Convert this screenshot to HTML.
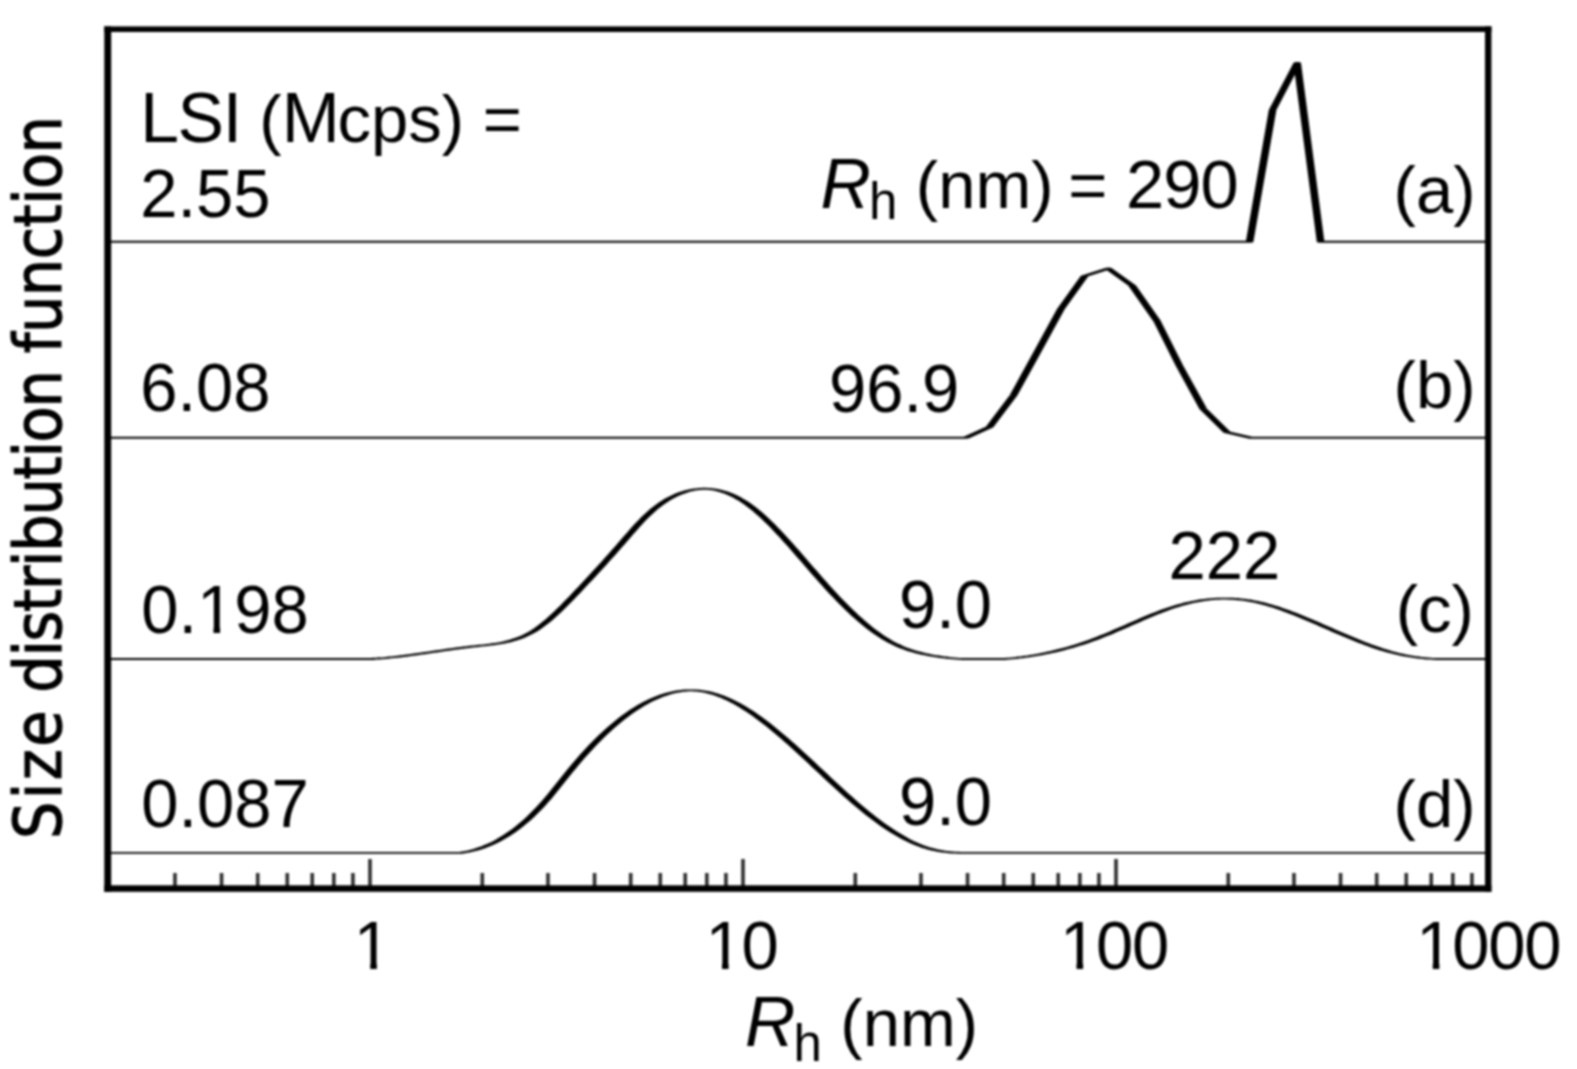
<!DOCTYPE html>
<html lang="en">
<head>
<meta charset="utf-8">
<title>Size distribution function vs Rh (nm)</title>
<style>
  html, body { margin: 0; padding: 0; background: #ffffff; }
  body { width: 1577px; height: 1069px; overflow: hidden; }
  svg { display: block; }
  svg text { font-family: "Liberation Sans", Arial, Helvetica, sans-serif; font-size: 67px; fill: #000; }
  svg text.yl { font-family: "DejaVu Sans Condensed", "DejaVu Sans", "Liberation Sans", sans-serif; font-stretch: condensed; font-size: 65.5px; letter-spacing: -1.15px; stroke: #000; stroke-width: 1.1px; }
</style>
</head>
<body>
<svg width="1577" height="1069" viewBox="0 0 1577 1069">
<defs><filter id="soft" x="0" y="0" width="1577" height="1069" filterUnits="userSpaceOnUse" color-interpolation-filters="sRGB"><feGaussianBlur stdDeviation="0.90"/></filter></defs>
<rect x="0" y="0" width="1577" height="1069" fill="#ffffff"/>
<g filter="url(#soft)">
<rect x="0" y="0" width="1577" height="1069" fill="#ffffff"/>
<g id="curves">
<path transform="scale(4.0000 1)" d="M27.550 241.80L312.400 241.80L318.150 110.00L324.300 63.00L330.150 241.80L371.500 241.80" fill="none" stroke="#000" stroke-width="1.90" stroke-linejoin="round" stroke-linecap="butt"/>
<path transform="scale(4.0000 1)" d="M27.550 437.80L241.475 437.80L247.400 427.00L253.350 395.50L259.275 352.50L265.225 309.00L271.150 276.00L277.075 268.50L283.025 285.50L289.250 321.00L294.900 366.00L300.825 409.00L306.750 432.30L312.700 437.80L371.500 437.80" fill="none" stroke="#000" stroke-width="1.90" stroke-linejoin="round" stroke-linecap="butt"/>
<path transform="scale(4.0000 1)" d="M27.550 659.00L93.000 659.00L93.750 658.69L94.500 658.50L95.250 658.28L96.000 658.04L96.750 657.77L97.500 657.48L98.250 657.18L99.000 656.86L99.750 656.52L100.500 656.16L101.250 655.79L102.000 655.41L102.750 655.02L103.500 654.61L104.250 654.20L105.000 653.78L105.750 653.35L106.500 652.92L107.250 652.48L108.000 652.04L108.750 651.60L109.500 651.16L110.250 650.73L111.000 650.29L111.750 649.86L112.500 649.43L113.250 649.01L114.000 648.60L114.750 648.20L115.500 647.81L116.250 647.43L117.000 647.06L117.750 646.71L118.500 646.37L119.250 646.05L120.000 645.73L120.750 645.42L121.500 645.09L122.250 644.74L123.000 644.37L123.750 643.95L124.500 643.49L125.250 642.97L126.000 642.39L126.750 641.72L127.500 640.97L128.250 640.13L129.000 639.18L129.750 638.12L130.500 636.94L131.250 635.62L132.000 634.16L132.750 632.56L133.500 630.79L134.250 628.85L135.000 626.76L135.750 624.52L136.500 622.15L137.250 619.65L138.000 617.03L138.750 614.31L139.500 611.50L140.250 608.60L141.000 605.63L141.750 602.60L142.500 599.51L143.250 596.38L144.000 593.22L144.750 590.04L145.500 586.85L146.250 583.65L147.000 580.44L147.750 577.22L148.500 573.98L149.250 570.73L150.000 567.46L150.750 564.18L151.500 560.87L152.250 557.54L153.000 554.19L153.750 550.81L154.500 547.40L155.250 543.96L156.000 540.50L156.750 537.03L157.500 533.59L158.250 530.18L159.000 526.83L159.750 523.56L160.500 520.39L161.250 517.33L162.000 514.43L162.750 511.68L163.500 509.10L164.250 506.70L165.000 504.47L165.750 502.39L166.500 500.48L167.250 498.72L168.000 497.10L168.750 495.64L169.500 494.31L170.250 493.12L171.000 492.08L171.750 491.18L172.500 490.42L173.250 489.80L174.000 489.33L174.750 489.00L175.500 488.82L176.250 488.78L177.000 488.88L177.750 489.13L178.500 489.53L179.250 490.08L180.000 490.77L180.750 491.61L181.500 492.59L182.250 493.73L183.000 495.01L183.750 496.45L184.500 498.03L185.250 499.76L186.000 501.65L186.750 503.68L187.500 505.85L188.250 508.15L189.000 510.58L189.750 513.13L190.500 515.79L191.250 518.55L192.000 521.40L192.750 524.35L193.500 527.38L194.250 530.49L195.000 533.66L195.750 536.89L196.500 540.18L197.250 543.52L198.000 546.89L198.750 550.30L199.500 553.74L200.250 557.19L201.000 560.66L201.750 564.13L202.500 567.59L203.250 571.05L204.000 574.49L204.750 577.91L205.500 581.29L206.250 584.64L207.000 587.95L207.750 591.22L208.500 594.44L209.250 597.61L210.000 600.73L210.750 603.79L211.500 606.79L212.250 609.73L213.000 612.60L213.750 615.39L214.500 618.11L215.250 620.76L216.000 623.32L216.750 625.79L217.500 628.18L218.250 630.47L219.000 632.67L219.750 634.77L220.500 636.76L221.250 638.65L222.000 640.43L222.750 642.09L223.500 643.64L224.250 645.08L225.000 646.41L225.750 647.65L226.500 648.79L227.250 649.84L228.000 650.81L228.750 651.70L229.500 652.52L230.250 653.27L231.000 653.96L231.750 654.59L232.500 655.16L233.250 655.69L234.000 656.18L234.750 656.63L235.500 657.05L236.250 657.43L237.000 657.79L237.750 658.12L238.500 658.41L239.250 658.68L240.000 658.91L240.750 659.00L251.250 659.00L252.000 658.64L252.750 658.37L253.500 658.08L254.250 657.76L255.000 657.41L255.750 657.04L256.500 656.63L257.250 656.20L258.000 655.73L258.750 655.24L259.500 654.72L260.250 654.17L261.000 653.59L261.750 652.98L262.500 652.34L263.250 651.67L264.000 650.97L264.750 650.24L265.500 649.48L266.250 648.70L267.000 647.88L267.750 647.02L268.500 646.14L269.250 645.23L270.000 644.29L270.750 643.31L271.500 642.31L272.250 641.27L273.000 640.20L273.750 639.10L274.500 637.97L275.250 636.80L276.000 635.61L276.750 634.39L277.500 633.14L278.250 631.88L279.000 630.60L279.750 629.30L280.500 628.00L281.250 626.68L282.000 625.36L282.750 624.04L283.500 622.73L284.250 621.42L285.000 620.11L285.750 618.82L286.500 617.55L287.250 616.29L288.000 615.05L288.750 613.84L289.500 612.66L290.250 611.50L291.000 610.38L291.750 609.30L292.500 608.26L293.250 607.27L294.000 606.31L294.750 605.42L295.500 604.57L296.250 603.78L297.000 603.04L297.750 602.36L298.500 601.73L299.250 601.16L300.000 600.64L300.750 600.18L301.500 599.78L302.250 599.44L303.000 599.15L303.750 598.93L304.500 598.76L305.250 598.65L306.000 598.60L306.750 598.61L307.500 598.68L308.250 598.81L309.000 599.00L309.750 599.26L310.500 599.57L311.250 599.95L312.000 600.40L312.750 600.90L313.500 601.47L314.250 602.09L315.000 602.78L315.750 603.52L316.500 604.31L317.250 605.15L318.000 606.04L318.750 606.97L319.500 607.94L320.250 608.96L321.000 610.01L321.750 611.10L322.500 612.22L323.250 613.37L324.000 614.54L324.750 615.75L325.500 616.97L326.250 618.21L327.000 619.48L327.750 620.75L328.500 622.04L329.250 623.34L330.000 624.65L330.750 625.96L331.500 627.27L332.250 628.59L333.000 629.90L333.750 631.21L334.500 632.51L335.250 633.80L336.000 635.08L336.750 636.35L337.500 637.60L338.250 638.84L339.000 640.06L339.750 641.26L340.500 642.43L341.250 643.57L342.000 644.69L342.750 645.78L343.500 646.84L344.250 647.86L345.000 648.85L345.750 649.79L346.500 650.70L347.250 651.56L348.000 652.38L348.750 653.15L349.500 653.87L350.250 654.55L351.000 655.17L351.750 655.75L352.500 656.28L353.250 656.76L354.000 657.20L354.750 657.59L355.500 657.93L356.250 658.23L357.000 658.48L357.750 658.69L358.500 658.85L359.250 658.97L360.000 659.00L371.500 659.00" fill="none" stroke="#000" stroke-width="1.90" stroke-linejoin="round" stroke-linecap="butt"/>
<path transform="scale(4.0000 1)" d="M27.550 852.90L115.250 852.90L116.000 852.24L116.750 851.73L117.500 851.12L118.250 850.41L119.000 849.60L119.750 848.69L120.500 847.68L121.250 846.56L122.000 845.35L122.750 844.03L123.500 842.61L124.250 841.09L125.000 839.46L125.750 837.72L126.500 835.88L127.250 833.94L128.000 831.88L128.750 829.71L129.500 827.43L130.250 825.04L131.000 822.54L131.750 819.91L132.500 817.17L133.250 814.31L134.000 811.33L134.750 808.23L135.500 805.01L136.250 801.66L137.000 798.18L137.750 794.59L138.500 790.91L139.250 787.17L140.000 783.39L140.750 779.60L141.500 775.83L142.250 772.11L143.000 768.46L143.750 764.87L144.500 761.35L145.250 757.91L146.000 754.53L146.750 751.23L147.500 748.00L148.250 744.84L149.000 741.76L149.750 738.76L150.500 735.84L151.250 733.00L152.000 730.23L152.750 727.55L153.500 724.95L154.250 722.44L155.000 720.01L155.750 717.66L156.500 715.41L157.250 713.24L158.000 711.16L158.750 709.17L159.500 707.28L160.250 705.48L161.000 703.77L161.750 702.16L162.500 700.64L163.250 699.22L164.000 697.91L164.750 696.69L165.500 695.58L166.250 694.57L167.000 693.66L167.750 692.86L168.500 692.17L169.250 691.59L170.000 691.11L170.750 690.75L171.500 690.51L172.250 690.37L173.000 690.36L173.750 690.45L174.500 690.67L175.250 691.01L176.000 691.47L176.750 692.04L177.500 692.74L178.250 693.55L179.000 694.46L179.750 695.49L180.500 696.62L181.250 697.85L182.000 699.17L182.750 700.60L183.500 702.11L184.250 703.71L185.000 705.40L185.750 707.17L186.500 709.02L187.250 710.94L188.000 712.94L188.750 715.01L189.500 717.14L190.250 719.34L191.000 721.59L191.750 723.91L192.500 726.28L193.250 728.70L194.000 731.16L194.750 733.68L195.500 736.23L196.250 738.82L197.000 741.45L197.750 744.11L198.500 746.80L199.250 749.51L200.000 752.25L200.750 755.01L201.500 757.78L202.250 760.57L203.000 763.37L203.750 766.18L204.500 768.99L205.250 771.80L206.000 774.61L206.750 777.41L207.500 780.20L208.250 782.99L209.000 785.76L209.750 788.51L210.500 791.24L211.250 793.95L212.000 796.63L212.750 799.28L213.500 801.89L214.250 804.47L215.000 807.01L215.750 809.51L216.500 811.96L217.250 814.37L218.000 816.72L218.750 819.02L219.500 821.27L220.250 823.46L221.000 825.59L221.750 827.65L222.500 829.65L223.250 831.58L224.000 833.44L224.750 835.22L225.500 836.93L226.250 838.56L227.000 840.12L227.750 841.58L228.500 842.96L229.250 844.25L230.000 845.45L230.750 846.56L231.500 847.57L232.250 848.48L233.000 849.29L233.750 850.00L234.500 850.61L235.250 851.14L236.000 851.58L236.750 851.95L237.500 852.25L238.250 852.48L239.000 852.66L239.750 852.79L240.500 852.90L371.500 852.90" fill="none" stroke="#000" stroke-width="1.90" stroke-linejoin="round" stroke-linecap="butt"/>
</g>
<g id="ticks" fill="#2e2e2e"><rect x="173.17" y="873.0" width="3.6" height="13.3"/><rect x="219.77" y="873.0" width="3.6" height="13.3"/><rect x="255.92" y="873.0" width="3.6" height="13.3"/><rect x="285.45" y="873.0" width="3.6" height="13.3"/><rect x="310.42" y="873.0" width="3.6" height="13.3"/><rect x="332.05" y="873.0" width="3.6" height="13.3"/><rect x="351.13" y="873.0" width="3.6" height="13.3"/><rect x="368.20" y="859.0" width="3.6" height="27.3"/><rect x="480.48" y="873.0" width="3.6" height="13.3"/><rect x="546.17" y="873.0" width="3.6" height="13.3"/><rect x="592.77" y="873.0" width="3.6" height="13.3"/><rect x="628.92" y="873.0" width="3.6" height="13.3"/><rect x="658.45" y="873.0" width="3.6" height="13.3"/><rect x="683.42" y="873.0" width="3.6" height="13.3"/><rect x="705.05" y="873.0" width="3.6" height="13.3"/><rect x="724.13" y="873.0" width="3.6" height="13.3"/><rect x="741.20" y="859.0" width="3.6" height="27.3"/><rect x="853.48" y="873.0" width="3.6" height="13.3"/><rect x="919.17" y="873.0" width="3.6" height="13.3"/><rect x="965.77" y="873.0" width="3.6" height="13.3"/><rect x="1001.92" y="873.0" width="3.6" height="13.3"/><rect x="1031.45" y="873.0" width="3.6" height="13.3"/><rect x="1056.42" y="873.0" width="3.6" height="13.3"/><rect x="1078.05" y="873.0" width="3.6" height="13.3"/><rect x="1097.13" y="873.0" width="3.6" height="13.3"/><rect x="1114.20" y="859.0" width="3.6" height="27.3"/><rect x="1226.48" y="873.0" width="3.6" height="13.3"/><rect x="1292.17" y="873.0" width="3.6" height="13.3"/><rect x="1338.77" y="873.0" width="3.6" height="13.3"/><rect x="1374.92" y="873.0" width="3.6" height="13.3"/><rect x="1404.45" y="873.0" width="3.6" height="13.3"/><rect x="1429.42" y="873.0" width="3.6" height="13.3"/><rect x="1451.05" y="873.0" width="3.6" height="13.3"/><rect x="1470.13" y="873.0" width="3.6" height="13.3"/></g>
<g id="frame" fill="#000"><rect x="104.3" y="26.4" width="1387.1" height="5.6"/><rect x="104.3" y="885.3" width="1387.1" height="6.5"/><rect x="104.3" y="26.4" width="6.9" height="865.4"/><rect x="1485.0" y="26.4" width="6.4" height="865.4"/></g>
<g id="labels">
<text x="140.2" y="142.4"><tspan style="font-size:69.68px;letter-spacing:-1.35px">LSI</tspan> (<tspan style="font-size:69.68px;letter-spacing:-2.24px">M</tspan>cps) =</text>
<text transform="translate(140.2 217.0) scale(1 1.025)">2.55</text>
<text transform="translate(140.2 411.2) scale(1 1.025)">6.08</text>
<text transform="translate(141.2 633.0) scale(1 1.025)">0.198</text>
<text transform="translate(141.2 827.2) scale(1 1.025)">0.087</text>
<text x="820.5" y="207.6"><tspan style="font-style:italic;font-size:69.68px;letter-spacing:-1.94px">R</tspan><tspan style="font-size:51px" dy="11">h</tspan><tspan dy="-11"> (nm)</tspan><tspan dx="-3.8"> = </tspan><tspan style="font-size:68.67px;letter-spacing:-0.93px">290</tspan></text>
<text transform="translate(829.0 412.3) scale(1 1.025)">96.9</text>
<text transform="translate(899.0 627.8) scale(1 1.025)">9.0</text>
<text transform="translate(899.0 825.0) scale(1 1.025)">9.0</text>
<text transform="translate(1168.5 578.5) scale(1 1.025)">222</text>
<text x="1393.6" y="213.0">(a)</text>
<text x="1393.6" y="408.0">(b)</text>
<text x="1395.8" y="631.8">(c)</text>
<text x="1393.6" y="827.3">(d)</text>
<text transform="translate(353.7 968.6) scale(1 1.025)" letter-spacing="-1.2">1</text>
<text transform="translate(705.4 968.6) scale(1 1.025)" letter-spacing="-1.2">10</text>
<text transform="translate(1060.0 968.6) scale(1 1.025)" letter-spacing="-1.2">100</text>
<text transform="translate(1416.2 968.6) scale(1 1.025)" letter-spacing="-1.2">1000</text>
<text x="745.0" y="1045.5"><tspan style="font-style:italic;font-size:69.68px;letter-spacing:-1.94px">R</tspan><tspan style="font-size:51px" dy="15">h</tspan><tspan dy="-15"> (nm)</tspan></text>
<text class="yl" transform="translate(61.0 839.1) rotate(-90)" style="letter-spacing:2.55px">Size</text>
<text class="yl" transform="translate(61.0 692.8) rotate(-90)" style="letter-spacing:-1.20px">distribution</text>
<text class="yl" transform="translate(61.0 353.3) rotate(-90)" style="letter-spacing:-0.50px">function</text>
</g>
<g id="serif-masks" fill="#ffffff"><rect x="357.65" y="962.60" width="12.59" height="7.60"/><rect x="376.85" y="962.60" width="12.05" height="7.60"/><rect x="709.41" y="962.60" width="12.59" height="7.60"/><rect x="728.61" y="962.60" width="12.05" height="7.60"/><rect x="1063.92" y="962.60" width="12.59" height="7.60"/><rect x="1083.12" y="962.60" width="12.05" height="7.60"/><rect x="1420.16" y="962.60" width="12.59" height="7.60"/><rect x="1439.36" y="962.60" width="12.05" height="7.60"/><rect x="200.90" y="627.00" width="12.59" height="7.60"/><rect x="220.10" y="627.00" width="12.05" height="7.60"/></g>
</g>
</svg>
</body>
</html>
